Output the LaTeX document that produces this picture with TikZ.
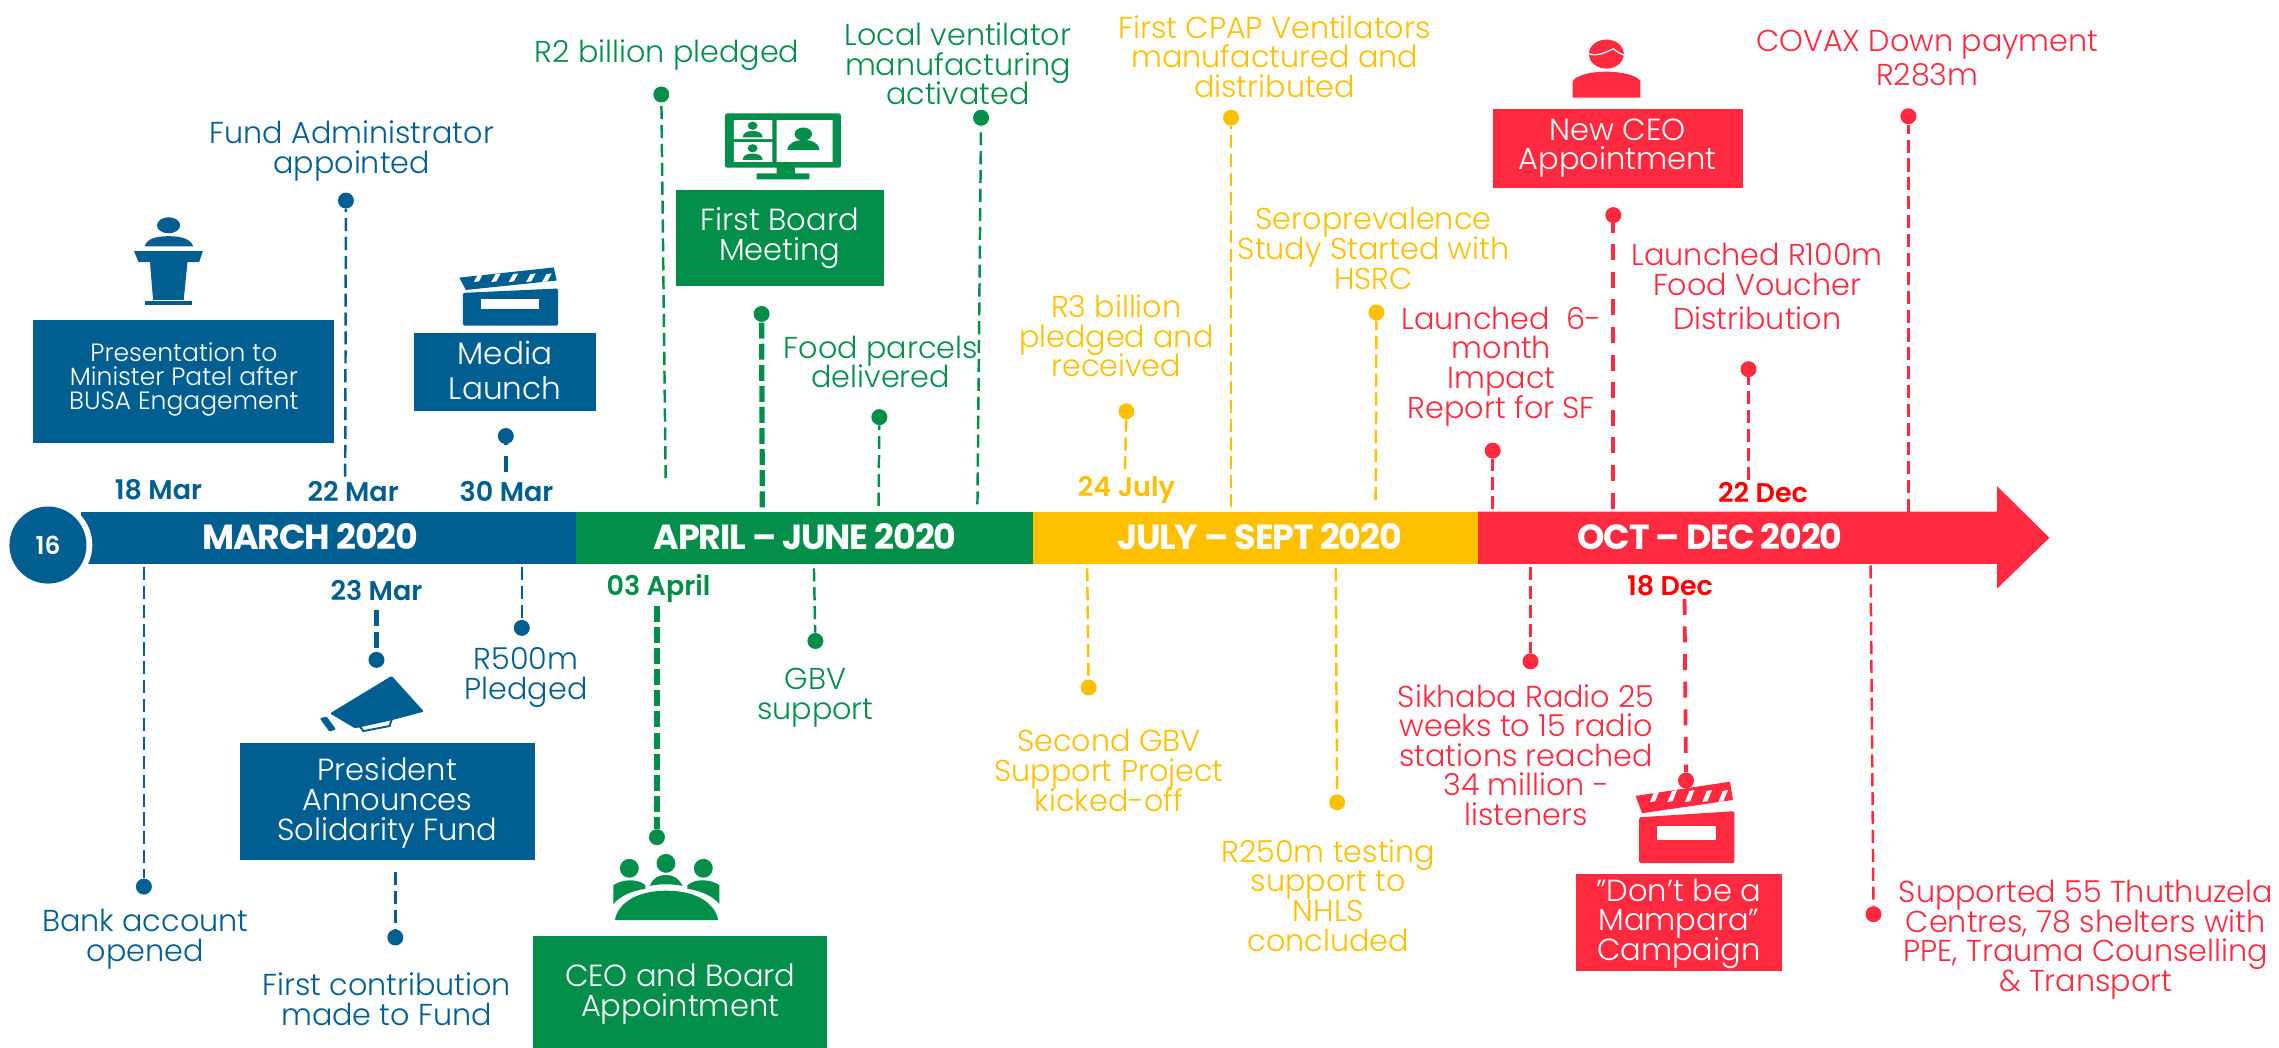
\documentclass[tikz,border=0pt]{standalone}
\usepackage{fontspec}
\setmainfont[UprightFont={* Light},BoldFont={* SemiBold}]{Poppins}
\newfontfamily\hdfont[LetterSpace=-3.5,BoldFont={* Bold}]{Poppins}
\AtBeginDocument{\lineskiplimit=-100pt}
\definecolor{cblue}{HTML}{005E90}
\definecolor{cgreen}{HTML}{038E4A}
\definecolor{cyellow}{HTML}{FFC000}
\definecolor{cred}{HTML}{FF2A3F}
\definecolor{cdred}{HTML}{FF0000}
\newcommand\labfont{\fontsize{20.8}{20.4}\selectfont}
\newcommand\smfont{\fontsize{17.2}{16.4}\selectfont}
\newcommand\lgfont{\fontsize{21}{20.4}\selectfont}
\newcommand\myclapper[1]{%
  \fill[#1] (0,7) -- (65,0) -- (67,9) -- (4.5,15.5) -- cycle;
  \foreach \a in {10,22,34,46,57}{\fill[white] (\a,5.6) ++(3,-1) -- ++(3.5,-.5) -- ++(-3,5.5) -- ++(-3.5,.4) -- cycle;}
  \fill[#1,rounded corners=1] (2.5,17.5) -- (68,14.5) -- (68,40) -- (2.5,40) -- cycle;
  \fill[white] (15,21.6) rectangle (55,28.5);
}
\tikzset{
  dot/.style={circle,fill=#1,inner sep=0,minimum size=11pt},
  thindash/.style={draw=#1,line width=1.7pt,dash pattern=on 9pt off 4pt},
  meddash/.style={draw=#1,line width=2.6pt,dash pattern=on 11pt off 8pt},
  thickdash/.style={draw=#1,line width=3.6pt,dash pattern=on 11pt off 3.5pt},
  lab/.style={text=#1,align=center,inner sep=0,font=\labfont},
  boxn/.style={fill=#1,text=white,align=center,inner sep=0,font=\lgfont},
  datel/.style={text=#1,inner sep=0,font=\fontsize{18.6}{20}\selectfont\bfseries},
  hdr/.style={text=white,inner sep=0,font=\fontsize{24}{26}\selectfont\hdfont\bfseries},
}
\begin{document}
\begin{tikzpicture}[x=1pt,y=-1pt]
\useasboundingbox (0,0) rectangle (1568,721);
% bar
\fill[cblue] (56,352) rectangle (396,388);
\fill[cgreen] (396,352) rectangle (711,388);
\fill[cyellow] (711,352) rectangle (1017,388);
\fill[cred] (1017,352) -- (1374,352) -- (1374,334.5) -- (1410,370) -- (1374,405) -- (1374,388) -- (1017,388) -- cycle;
\fill[white] (33,375) circle (30.5);
\node[circle,fill=cblue,inner sep=0,minimum size=53pt,text=white,font=\fontsize{17}{19}\selectfont\bfseries] (start) at (33,375) {16};
\node[hdr] (h1) at (213.5,369.5) {MARCH 2020};
\node[hdr] (h2) at (554,369.5) {APRIL – JUNE 2020};
\node[hdr] (h3) at (866.5,369.5) {JULY – SEPT 2020};
\node[hdr] (h4) at (1176.5,369.5) {OCT – DEC 2020};
% dates
\node[datel=cblue] (t1) at (109,337) {18 Mar};
\node[datel=cblue] (t2) at (243,338) {22 Mar};
\node[datel=cblue] (t3) at (348.5,338) {30 Mar};
\node[datel=cblue] (t4) at (259,406) {23 Mar};
\node[datel=cgreen] (t5) at (453,405) {03 April};
\node[datel=cyellow] (t6) at (775,337) {24 July};
\node[datel=cdred] (t7) at (1213,339) {22 Dec};
\node[datel=cdred] (t8) at (1149,403) {18 Dec};
% boxes
\node[boxn=cblue,minimum width=207pt,minimum height=85pt] (b1) at (126.5,262.5) {};
\node[text=white,align=center,inner sep=0,font=\smfont] (b1t) at (126.5,261) {Presentation to\\Minister Patel after\\BUSA Engagement};
\node[boxn=cblue,minimum width=125pt,minimum height=54pt] (b2) at (347.5,256) {};
\node[text=white,align=center,inner sep=0,font=\fontsize{21.4}{24}\selectfont] (b2t) at (347.5,255) {Media\\Launch};
\node[boxn=cgreen,minimum width=143pt,minimum height=66pt] (b3) at (536.5,164) {};
\node[text=white,align=center,inner sep=0,font=\lgfont] (b3t) at (536.5,164) {First Board\\Meeting};
\node[boxn=cred,minimum width=172pt,minimum height=54pt] (b4) at (1113,102) {};
\node[text=white,align=center,inner sep=0,font=\lgfont] (b4t) at (1113,102) {New CEO\\Appointment};
\node[boxn=cblue,minimum width=203pt,minimum height=81pt] (b5) at (266.5,551.5) {};
\node[text=white,align=center,inner sep=0,font=\lgfont] (b5t) at (266.5,552.5) {President\\Announces\\Solidarity Fund};
\node[boxn=cgreen,minimum width=202pt,minimum height=77pt] (b6) at (468,682.5) {};
\node[text=white,align=center,inner sep=0,font=\lgfont] (b6t) at (468,684) {CEO and Board\\Appointment};
\node[boxn=cred,minimum width=142pt,minimum height=67pt] (b7) at (1155,634.5) {};
\node[text=white,align=center,inner sep=0,font=\lgfont] (b7t) at (1155,635.5) {”Don’t be a\\Mampara”\\Campaign};
% labels
\node[lab=cblue] (l1) at (242,104) {Fund Administrator\\appointed};
\node[lab=cgreen] (l2) at (459,38) {R2 billion pledged};
\node[lab=cgreen] (l3) at (659,44) {Local ventilator\\manufacturing\\activated};
\node[lab=cgreen] (l4) at (606,249) {Food parcels\\delivered};
\node[lab=cyellow] (l5) at (877,39) {First CPAP Ventilators\\manufactured and\\distributed};
\node[lab=cyellow] (l6) at (768,231) {R3 billion\\pledged and\\received};
\node[lab=cyellow] (l7) at (945,171) {Seroprevalence\\Study Started with\\HSRC};
\node[lab=cred] (l8) at (1326,40) {COVAX Down payment\\[3.4pt]R283m};
\node[lab=cred] (l9) at (1209,197) {Launched R100m\\Food Voucher\\[3pt]Distribution};
\node[lab=cred] (l10) at (1033,252) {Launched\ \ 6-\\month\\Impact\\Report for SF};
\node[lab=cblue] (l11) at (100,646) {Bank account\\opened};
\node[lab=cblue] (l12) at (266,687.5) {First contribution\\made to Fund};
\node[lab=cblue] (l13) at (362,466) {R500m\\Pledged};
\node[lab=cgreen] (l14) at (561,480) {GBV\\support};
\node[lab=cyellow] (l15) at (763,530) {Second GBV\\Support Project\\kicked-off};
\node[lab=cyellow] (l16) at (914,616) {R250m testing\\support to\\NHLS\\concluded};
\node[lab=cred] (l17) at (1050,519.5) {Sikhaba Radio 25\\weeks to 15 radio\\stations reached\\34 million -\\listeners};
\node[lab=cred] (l18) at (1435,646.5) {Supported 55 Thuthuzela\\Centres, 78 shelters with\\PPE, Trauma Counselling\\\& Transport};
% dots
\node[dot=cblue] (d1) at (238,138) {};
\node[dot=cblue] (d2) at (348,300) {};
\node[dot=cgreen] (d3) at (455,65) {};
\node[dot=cgreen] (d4) at (524,216) {};
\node[dot=cgreen] (d5) at (675,81) {};
\node[dot=cgreen] (d6) at (605,287) {};
\node[dot=cyellow] (d7) at (847,81) {};
\node[dot=cyellow] (d8) at (775,283) {};
\node[dot=cyellow] (d9) at (947,215) {};
\node[dot=cred] (d10) at (1110,148) {};
\node[dot=cred] (d11) at (1313,80) {};
\node[dot=cred] (d12) at (1203,254) {};
\node[dot=cred] (d13) at (1027,310) {};
\node[dot=cblue] (d14) at (99,610) {};
\node[dot=cblue] (d15) at (259,454) {};
\node[dot=cblue] (d16) at (272,645) {};
\node[dot=cblue] (d17) at (359,432) {};
\node[dot=cgreen] (d18) at (452,576) {};
\node[dot=cgreen] (d19) at (561,441) {};
\node[dot=cyellow] (d20) at (749,473) {};
\node[dot=cyellow] (d21) at (920,552) {};
\node[dot=cred] (d22) at (1053,455) {};
\node[dot=cred] (d23) at (1160,537) {};
\node[dot=cred] (d24) at (1289,629) {};
% connector ends
\coordinate (e1) at (237.5,328);
\coordinate (e2) at (348,325);
\coordinate (e3) at (458,329);
\coordinate (e4) at (524.5,349);
\coordinate (e5) at (672.5,347);
\coordinate (e6) at (604.5,348);
\coordinate (e7) at (847,349);
\coordinate (e8) at (774,323);
\coordinate (e9) at (946.5,344);
\coordinate (e10) at (1110,350);
\coordinate (e11) at (1313,352);
\coordinate (e12) at (1203,330);
\coordinate (e13) at (1027,350);
\coordinate (e14) at (99,390);
\coordinate (e15) at (259,420);
\coordinate (e16) at (272,600);
\coordinate (e17) at (359,390);
\coordinate (e18) at (452,417);
\coordinate (e19) at (560,391);
\coordinate (e20) at (748,391);
\coordinate (e21) at (919,391);
\coordinate (e22) at (1053,390);
\coordinate (e23) at (1159,412);
\coordinate (e24) at (1287,389);
\draw[thindash=cblue] (e1) -- (d1);
\draw[meddash=cblue] (e2) -- (d2);
\draw[thindash=cgreen] (e3) -- (d3);
\draw[thickdash=cgreen] (e4) -- (d4);
\draw[thindash=cgreen] (e5) -- (d5);
\draw[thindash=cgreen] (e6) -- (d6);
\draw[thindash=cyellow] (e7) -- (d7);
\draw[thindash=cyellow] (e8) -- (d8);
\draw[thindash=cyellow] (e9) -- (d9);
\draw[meddash=cred] (e10) -- (d10);
\draw[thindash=cred] (e11) -- (d11);
\draw[thindash=cred] (e12) -- (d12);
\draw[thindash=cred] (e13) -- (d13);
\draw[thindash=cblue] (e14) -- (d14);
\draw[thickdash=cblue] (e15) -- (d15);
\draw[thindash=cblue] (e16) -- (d16);
\draw[thindash=cblue] (e17) -- (d17);
\draw[thickdash=cgreen] (e18) -- (d18);
\draw[thindash=cgreen] (e19) -- (d19);
\draw[thindash=cyellow] (e20) -- (d20);
\draw[thindash=cyellow] (e21) -- (d21);
\draw[thindash=cred] (e22) -- (d22);
\draw[meddash=cred] (e23) -- (d23);
\draw[thindash=cred] (e24) -- (d24);
% podium icon
\fill[cblue] (116,155) ellipse (8 and 5.5);
\fill[cblue] (99.5,169.5) .. controls (101,164) and (108,162.5) .. (116,162.5) .. controls (124,162.5) and (131,164) .. (133,169.5) -- cycle;
\fill[cblue] (92.2,172.7) -- (139.6,172.7) -- (137,180.3) -- (129,180.3) -- (126.4,206.3) -- (105.3,206.3) -- (103.2,180.3) -- (95.3,180.3) -- cycle;
\fill[cblue] (100,207) rectangle (132,209.5);
% clappers
\begin{scope}[shift={(316,184)}]\myclapper{cblue}\end{scope}
\begin{scope}[shift={(1125.3,537.8)},yscale=1.4]\myclapper{cred}\end{scope}
% monitor icon
\fill[cgreen,rounded corners=1.5] (498.8,78) rectangle (578.6,115.4);
\fill[cgreen] (534.4,115) rectangle (547,119.5) (520.6,119.3) rectangle (556.8,123.4);
\fill[white] (505,82.6) rectangle (531.4,95.7) (505,97.7) rectangle (531.4,111.3) (534.4,82.6) rectangle (572.9,111.3);
\fill[cgreen] (552.7,92.2) ellipse (6 and 4.5);
\fill[cgreen] (541.7,103.2) .. controls (542,98) and (548,96.3) .. (552.7,96.3) .. controls (558,96.3) and (563.5,98) .. (563.7,103.2) -- cycle;
\foreach \yy in {86.5,102}{
  \fill[cgreen] (517.8,\yy) ellipse (3.4 and 2.8);
  \fill[cgreen] (511,\yy+8) .. controls (511,\yy+5) and (514,\yy+3.6) .. (517.8,\yy+3.6) .. controls (521.5,\yy+3.6) and (524.7,\yy+5) .. (524.7,\yy+8) -- cycle;
}
% person icon
\fill[cred] (1105.2,37.2) ellipse (12 and 10);
\draw[white,line width=.9pt] (1093,37) .. controls (1099,39) and (1105,36) .. (1110,33.5) .. controls (1112,35) and (1114,37) .. (1118,38);
\fill[cred] (1082,67.2) -- (1082,56) .. controls (1084,52) and (1094,49.3) .. (1105,49.3) .. controls (1116,49.3) and (1127,52) .. (1128.6,56) -- (1128.6,67.2) -- cycle;
% megaphone icon
\fill[cblue,rounded corners=.8] (227,490.8) -- (269.5,465) -- (291.7,489.6) -- (268.3,495.8) -- (244.2,501.1) -- cycle;
\fill[cblue,rounded corners=.8] (220,494.2) -- (224.7,493) -- (231.2,501.8) -- (226.6,503.4) -- cycle;
\draw[cblue,line width=1.3pt] (247,499) -- (250,503) -- (268,499.5) -- (269.5,495);
% table icon
\fill[cgreen] (433,597.4) circle (6.5) (458.2,594) circle (6.5) (483.9,597.4) circle (6.5);
\fill[cgreen] (422,622) -- (422,609) .. controls (428,605) and (438,604) .. (444,609) -- (444,611.5) .. controls (434,613) and (426,617) .. (422,622) -- cycle;
\fill[cgreen] (495,622) -- (495,609) .. controls (489,605) and (479,604) .. (473,609) -- (473,611.5) .. controls (483,613) and (491,617) .. (495,622) -- cycle;
\fill[cgreen] (447.2,609.5) .. controls (449,604) and (453,602) .. (458.2,602) .. controls (463,602) and (467,604) .. (469.5,609.5) .. controls (462,608) and (454,608) .. (447.2,609.5) -- cycle;
\fill[cgreen] (423.1,633) .. controls (425,622) and (437,612.8) .. (458.6,612.8) .. controls (480,612.8) and (492,622) .. (494.2,633) -- cycle;
\end{tikzpicture}
\end{document}
